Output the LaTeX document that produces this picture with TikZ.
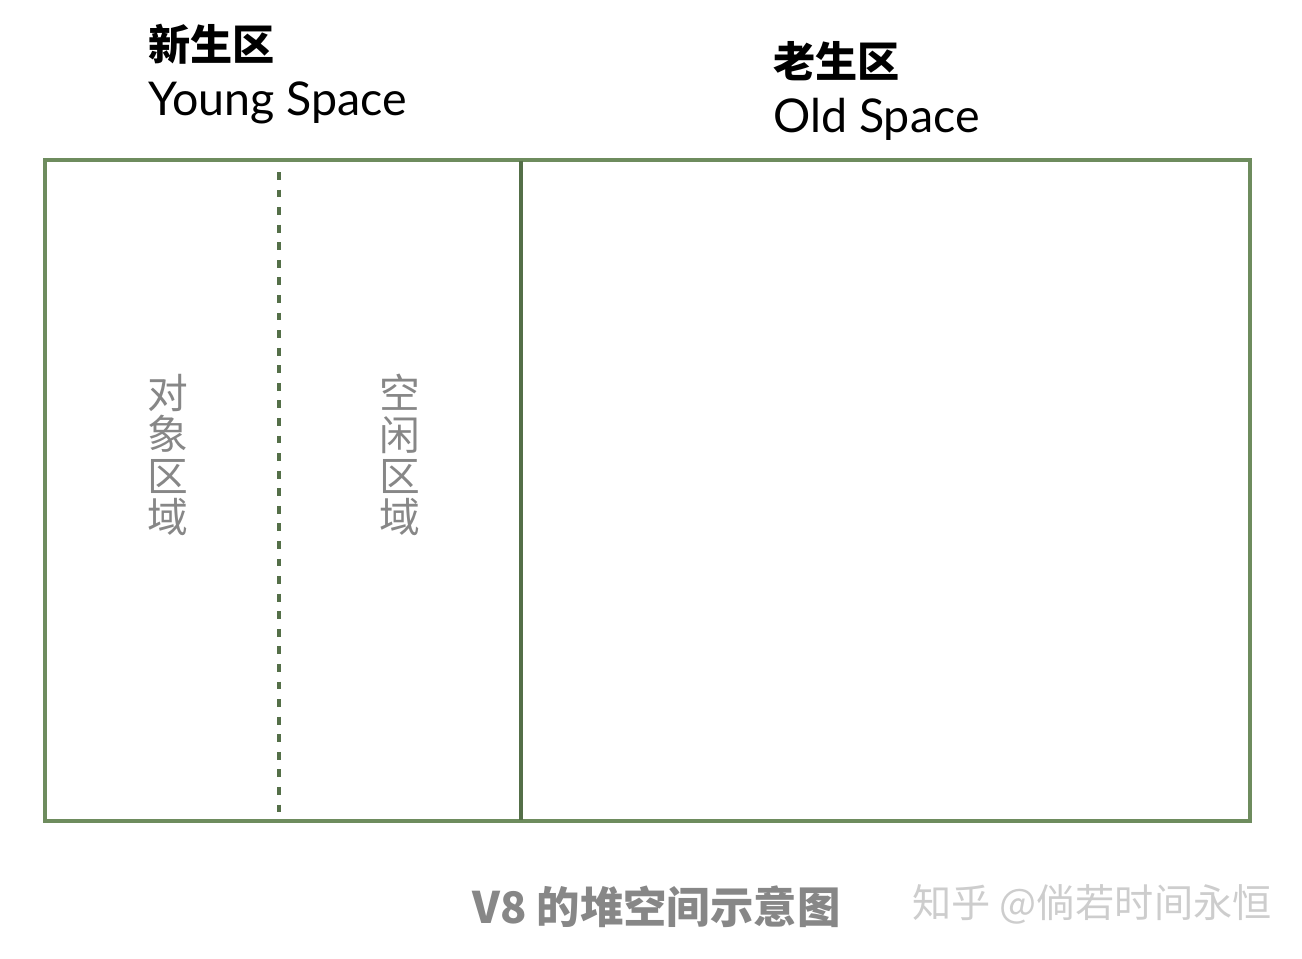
\documentclass[tikz,border=0pt]{standalone}
\usepackage{fontspec}
\setmainfont{Lato}
\newfontfamily\cjk{Noto Sans CJK SC}
\definecolor{frame}{HTML}{6E8C5E}
\definecolor{divider}{HTML}{546F48}
\definecolor{label}{HTML}{878787}
\definecolor{mark}{HTML}{CDCDCD}

\begin{document}
\begin{tikzpicture}[x=0.02cm, y=-0.02cm]
    \useasboundingbox (0, 0) rectangle (1302, 958);
    \tikzset{
      title/.style={anchor=base west, inner sep=0, font=\cjk\bfseries\fontsize{24}{24}\selectfont},
      subtitle/.style={anchor=base west, inner sep=0, font=\fontsize{26.5}{26.5}\selectfont},
      region/.style={align=center, inner sep=0, text=label, font=\cjk\fontsize{23.2}{23.4}\selectfont}
    }

    % young and old space headings
    \node[title] (youngcn) at (148, 60) {新生区};
    \node[subtitle] (younglat) at (148, 115) {Young Space};
    \node[title] (oldcn) at (773, 77) {老生区};
    \node[subtitle] (oldlat) at (773, 132) {Old Space};

    % heap outline
    \draw[frame, line width=2.2] (45, 160) rectangle (1250, 821);
    \draw[divider, line width=2.2] (521, 161) -- (521, 820);
    \draw[divider, line width=2.2, dash pattern=on 4.5pt off 5.5pt] (279, 172) -- (279, 820);

    \node[region] (objects) at (168, 455) {对\\象\\区\\域};
    \node[region] (free) at (400, 455) {空\\闲\\区\\域};

    % caption
    \node[anchor=base west, inner sep=0, text=label, font=\cjk\bfseries\fontsize{24.7}{24.7}\selectfont] (caption) at (472, 923) {V8 的堆空间示意图};
    \node[anchor=base west, inner sep=0, text=mark, font=\cjk\fontsize{22.3}{22.3}\selectfont] (watermark) at (912, 917) {知乎 @倘若时间永恒};
  \end{tikzpicture}
\end{document}
